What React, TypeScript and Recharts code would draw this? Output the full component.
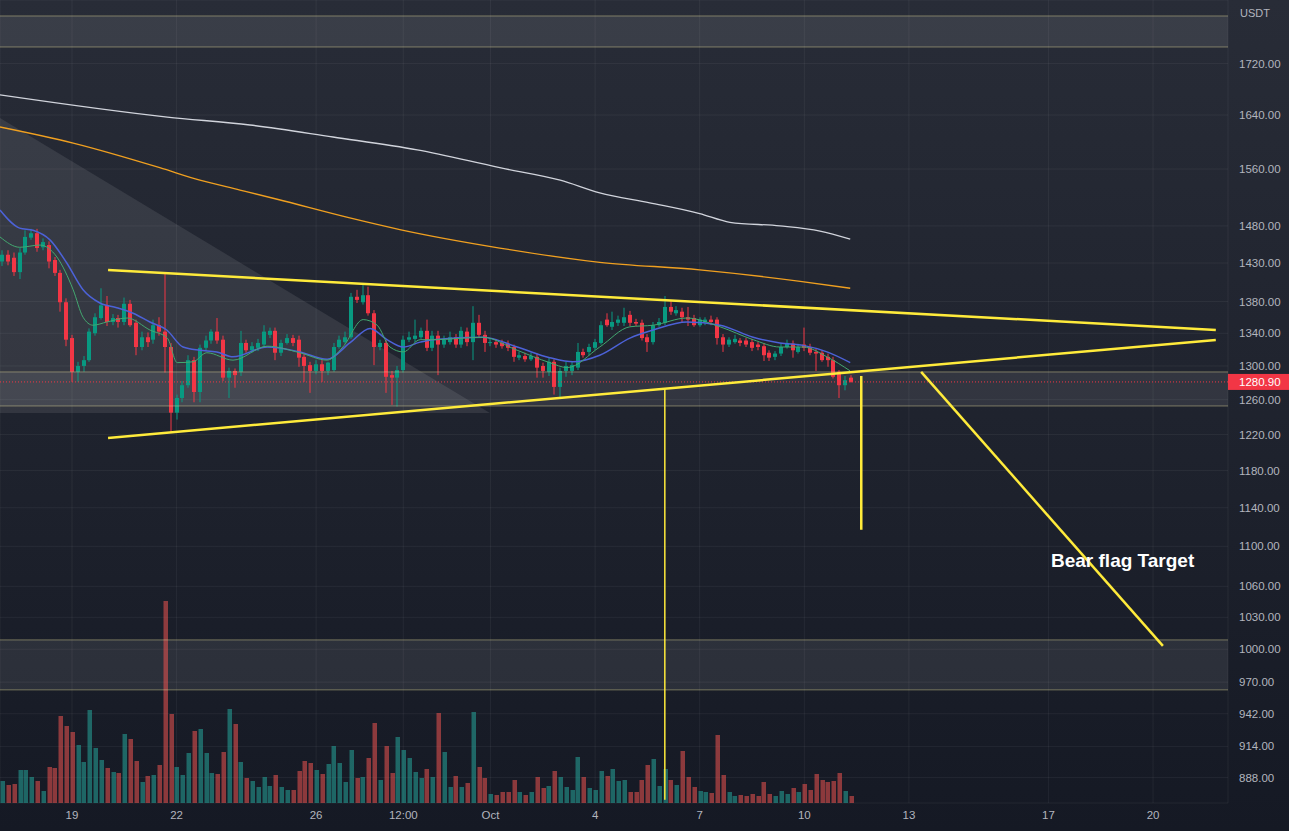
import React from 'react'
import {
  ComposedChart,
  Bar,
  Line,
  Area,
  XAxis,
  YAxis,
  CartesianGrid,
  ReferenceLine,
  ReferenceArea,
} from 'recharts'

// ETH/USDT 4h candles, first candle = Sep 17 04:00 (index -12), index 0 = Sep 19 00:00
const START = -12

const OPEN = [
  1432, 1441, 1437, 1418, 1444, 1464, 1470, 1451, 1454, 1434, 1417, 1379,
  1334, 1293, 1300, 1307, 1340, 1359, 1375, 1354, 1359, 1354,
  1377, 1353, 1323, 1335, 1332, 1350, 1342, 1323, 1245, 1262,
  1277, 1307, 1269, 1322, 1331, 1342, 1332, 1286, 1294, 1293,
  1328, 1319, 1322, 1326, 1338, 1343, 1316, 1328, 1334, 1332,
  1311, 1301, 1294, 1302, 1294, 1295, 1323, 1329, 1335, 1386,
  1379, 1388, 1365, 1323, 1328, 1289, 1286, 1295, 1332, 1333,
  1335, 1343, 1322, 1337, 1326, 1329, 1335, 1326, 1342, 1329,
  1353, 1338, 1328, 1329, 1328, 1327, 1323, 1310, 1312, 1308,
  1311, 1300, 1293, 1305, 1275, 1294, 1294, 1298, 1317, 1317,
  1322, 1328, 1357, 1348, 1353, 1353, 1363, 1354, 1353, 1335,
  1329, 1350, 1353, 1373, 1365, 1367, 1360, 1359, 1350, 1354,
  1357, 1357, 1335, 1326, 1329, 1331, 1331, 1329, 1326, 1324,
  1316, 1311, 1315, 1323, 1327, 1317, 1326, 1323, 1317, 1316,
  1311, 1307, 1293, 1277, 1286,
]

const HIGH = [
  1447, 1447, 1444, 1450, 1474, 1476, 1476, 1463, 1459, 1438, 1421, 1384,
  1338, 1305, 1312, 1346, 1365, 1397, 1387, 1364, 1363, 1385,
  1382, 1357, 1342, 1341, 1357, 1360, 1418, 1328, 1266, 1282,
  1313, 1311, 1326, 1337, 1345, 1359, 1337, 1298, 1297, 1343,
  1332, 1329, 1333, 1350, 1347, 1347, 1332, 1339, 1338, 1337,
  1315, 1305, 1307, 1307, 1305, 1328, 1337, 1342, 1391, 1395,
  1401, 1399, 1369, 1332, 1332, 1294, 1300, 1337, 1342, 1357,
  1347, 1357, 1343, 1343, 1337, 1342, 1339, 1348, 1347, 1374,
  1363, 1343, 1334, 1333, 1332, 1331, 1326, 1317, 1316, 1316,
  1315, 1304, 1310, 1308, 1298, 1305, 1305, 1328, 1321, 1327,
  1333, 1355, 1365, 1367, 1362, 1372, 1368, 1358, 1357, 1339,
  1354, 1359, 1387, 1382, 1374, 1372, 1373, 1363, 1360, 1360,
  1362, 1360, 1339, 1335, 1338, 1334, 1334, 1333, 1329, 1328,
  1319, 1318, 1328, 1332, 1331, 1327, 1347, 1327, 1321, 1319,
  1315, 1311, 1295, 1288, 1289,
]

const LOW = [
  1426, 1427, 1413, 1409, 1441, 1461, 1445, 1447, 1423, 1413, 1367, 1324,
  1281, 1281, 1293, 1305, 1337, 1357, 1349, 1350, 1347, 1350,
  1348, 1313, 1319, 1323, 1327, 1337, 1292, 1222, 1237, 1257,
  1274, 1257, 1257, 1318, 1327, 1327, 1282, 1262, 1274, 1288,
  1316, 1316, 1318, 1323, 1334, 1307, 1312, 1326, 1324, 1299,
  1281, 1268, 1290, 1281, 1289, 1293, 1321, 1327, 1333, 1378,
  1376, 1362, 1301, 1319, 1268, 1254, 1252, 1292, 1329, 1329,
  1333, 1318, 1318, 1289, 1322, 1326, 1322, 1322, 1324, 1307,
  1335, 1317, 1324, 1322, 1321, 1318, 1305, 1307, 1305, 1306,
  1286, 1286, 1288, 1266, 1262, 1287, 1289, 1295, 1310, 1313,
  1319, 1326, 1348, 1344, 1349, 1349, 1349, 1349, 1331, 1317,
  1326, 1348, 1350, 1363, 1362, 1353, 1349, 1348, 1348, 1350,
  1350, 1326, 1317, 1323, 1327, 1324, 1323, 1318, 1319, 1306,
  1306, 1307, 1312, 1321, 1310, 1315, 1318, 1313, 1294, 1305,
  1299, 1285, 1262, 1271, 1280,
]

const CLOSE = [
  1441, 1432, 1418, 1444, 1465, 1470, 1450, 1458, 1432, 1417, 1379, 1332,
  1293, 1300, 1307, 1342, 1360, 1375, 1354, 1359, 1354, 1377,
  1350, 1323, 1335, 1329, 1350, 1342, 1323, 1245, 1262, 1277,
  1307, 1269, 1322, 1331, 1342, 1331, 1286, 1294, 1289, 1328,
  1319, 1324, 1328, 1342, 1343, 1316, 1328, 1334, 1328, 1310,
  1300, 1294, 1302, 1294, 1304, 1323, 1332, 1335, 1386, 1382,
  1388, 1365, 1323, 1328, 1287, 1286, 1295, 1332, 1335, 1337,
  1343, 1322, 1337, 1326, 1332, 1335, 1326, 1343, 1329, 1353,
  1338, 1328, 1329, 1326, 1324, 1322, 1311, 1313, 1308, 1312,
  1298, 1294, 1305, 1275, 1294, 1300, 1301, 1317, 1313, 1323,
  1329, 1350, 1350, 1354, 1357, 1360, 1353, 1352, 1334, 1329,
  1350, 1354, 1373, 1367, 1369, 1360, 1357, 1350, 1357, 1357,
  1354, 1334, 1326, 1332, 1333, 1328, 1326, 1322, 1323, 1313,
  1310, 1315, 1323, 1328, 1319, 1323, 1322, 1316, 1315, 1307,
  1307, 1287, 1277, 1283, 1280.9,
]

// volume, thousands of ETH
const VOLUME = [
  22, 18, 19, 33, 33, 26, 22, 12, 36, 35, 87, 77,
  71, 58, 41, 93, 55, 43, 35, 31, 30, 69,
  64, 42, 21, 27, 28, 38, 202, 89, 36, 28,
  50, 72, 74, 50, 30, 29, 51, 94, 79, 41,
  25, 22, 16, 26, 17, 28, 16, 13, 13, 32,
  42, 40, 33, 29, 39, 57, 40, 21, 53, 25,
  26, 45, 80, 23, 57, 30, 66, 53, 45, 31,
  25, 34, 26, 90, 51, 16, 27, 16, 20, 91,
  36, 25, 9, 8, 11, 11, 23, 11, 8, 11,
  26, 15, 17, 32, 26, 16, 13, 46, 26, 15,
  13, 32, 27, 34, 22, 23, 11, 11, 23, 38,
  44, 17, 34, 23, 18, 52, 26, 16, 12, 11,
  10, 68, 28, 11, 7, 8, 7, 9, 7, 21,
  9, 7, 12, 9, 15, 11, 19, 13, 29, 23,
  21, 22, 30, 12, 7,
]

// moving averages, [candle index, price]
const MA_200 = [
  [-12.4, 1671], [16.4, 1637], [30.6, 1625], [44.9, 1607], [59.4, 1588], [73.6, 1562],
  [84, 1544], [90.8, 1526], [99.4, 1512], [108, 1497], [113.2, 1485], [121.8, 1480],
  [128.7, 1473], [133.9, 1462],
]
const MA_100 = [
  [-12.4, 1622], [0.2, 1598], [15.1, 1562], [22, 1544], [28.9, 1530], [35.3, 1517],
  [47.8, 1491], [56.4, 1475], [73.6, 1450], [90.8, 1431], [108, 1421], [125.3, 1406],
  [133.9, 1397],
]
const EMA_SLOW = [
  [-12.4, 1502], [-9, 1477], [-6.7, 1474], [-3.8, 1461], [-0.9, 1430], [1.9, 1395],
  [4.8, 1378], [7.7, 1372], [10.5, 1365], [13.4, 1354], [16.3, 1344], [19.1, 1323],
  [22, 1319], [24.9, 1317], [27.7, 1311], [33.6, 1323], [39.2, 1317], [43.9, 1308],
  [47.8, 1328], [51.3, 1346], [54.2, 1332], [57, 1323], [59.9, 1329], [62.1, 1332],
  [70.7, 1335], [76.6, 1323], [82.2, 1310], [86.2, 1305], [90.8, 1313], [96, 1334],
  [100, 1344], [105.8, 1354], [111.5, 1350], [117.2, 1335], [121.8, 1328], [125.8, 1325],
  [129.9, 1317], [133.9, 1304],
]
const EMA_FAST = [
  [-12.4, 1465], [-9, 1451], [-5.5, 1454], [-2.6, 1438], [0.2, 1395], [1.9, 1360],
  [3.6, 1350], [6, 1354], [9.5, 1359], [13.4, 1344], [16.4, 1334], [18.1, 1304],
  [20.8, 1305], [23.2, 1316], [27.7, 1307], [33.6, 1324], [39.2, 1316], [43.9, 1307],
  [46.6, 1323], [50.1, 1357], [52.5, 1350], [54.7, 1323], [57, 1317], [59.9, 1332],
  [62.1, 1332], [70.7, 1335], [76.6, 1319], [82.2, 1304], [85.2, 1298], [90.8, 1323],
  [96, 1348], [100, 1350], [105.8, 1359], [111.5, 1348], [117.2, 1332], [121.8, 1323],
  [125.8, 1323], [129.9, 1311], [133.9, 1294],
]

const PRICE_TICKS = [888, 914, 942, 970, 1000, 1030, 1060, 1100, 1140, 1180, 1220, 1260, 1300, 1340, 1380, 1430, 1480, 1560, 1640, 1720]
const TIME_TICKS = [0, 18, 42, 57, 72, 90, 108, 126, 144, 168, 186]
const TIME_LABELS = ['19', '22', '26', '12:00', 'Oct', '4', '7', '10', '13', '17', '20']

const ZONES = [
  [1746.7, 1797.6],
  [1252.7, 1292.8],
  [963.1, 1008.7],
]

// drawings: [[i1, p1], [i2, p2]]
const FLAG_TOP = [[6.2, 1420.8], [196.8, 1344.1]]
const FLAG_BOTTOM = [[6.2, 1216.2], [196.8, 1331.7]]
const POLE = [[-12.4, 1410.4], [12.0, 1217.3]]
const DROP_1 = [[102.0, 1273], [102.0, 870]]
const DROP_2 = [[135.8, 1288], [135.8, 1117]]
const TARGET = [[146.1, 1292.8], [187.7, 1003.1]]
const CHANNEL = [[-12.4, 1635.6], [71.9, 1244.6]]
const CHANNEL_BASE = 1244.6

const LAST_PRICE = 1280.9

const UP = '#089981'
const DOWN = '#f23645'
const VOL_UP = 'rgba(38,166,154,0.55)'
const VOL_DOWN = 'rgba(239,83,80,0.55)'
const YELLOW = '#ffeb3b'
const X_DOMAIN = [-12.39, 198.9]
const Y_DOMAIN = [867.3, 1824.4]
const FONT = '"Liberation Sans", Arial, sans-serif'

const candles = OPEN.map((o, k) => ({
  i: START + k,
  o,
  h: HIGH[k],
  l: LOW[k],
  c: CLOSE[k],
  v: VOLUME[k],
}))

const pts = (arr: number[][]) => arr.map(([i, v]) => ({ i, v }))

const channelData = [
  { i: CHANNEL[0][0], r: [CHANNEL_BASE, CHANNEL[0][1]] },
  { i: CHANNEL[1][0], r: [CHANNEL_BASE, CHANNEL[1][1]] },
]

const Candle = (props: any) => {
  const { x, y, width, height, payload } = props
  if (x == null || y == null) return null
  const { o, h, l, c } = payload
  const color = c >= o ? UP : DOWN
  const top = Math.min(y, y + height)
  const span = Math.abs(height)
  const lh = Math.log(h)
  const range = lh - Math.log(l) || 1
  const at = (v: number) => top + (span * (lh - Math.log(v))) / range
  const bTop = at(Math.max(o, c))
  const bBot = at(Math.min(o, c))
  const cx = x + width / 2
  const left = Math.round(cx - 2)
  return (
    <g>
      <rect x={left + 1.5} y={top} width={1} height={span} fill={color} />
      <rect x={left} y={bTop} width={4} height={Math.max(1, bBot - bTop)} fill={color} />
    </g>
  )
}

const VolBar = (props: any) => {
  const { x, y, width, height, payload } = props
  if (x == null || y == null) return null
  const cx = x + width / 2
  const left = Math.round(cx - 2.5)
  return (
    <rect
      x={left + 0.5}
      y={y}
      width={4.5}
      height={Math.max(0, height)}
      fill={payload.c >= payload.o ? VOL_UP : VOL_DOWN}
    />
  )
}

const PriceTag = (props: any) => {
  const vb = props.viewBox
  if (!vb) return null
  const x = vb.x + vb.width
  return (
    <g>
      <rect x={x} y={vb.y - 8} width={61} height={16} fill={DOWN} />
      <text x={x + 11} y={vb.y + 4} fill="#ffffff" fontSize={11.5} fontFamily={FONT}>
        {LAST_PRICE.toFixed(2)}
      </text>
    </g>
  )
}

const seg = (s: number[][]) => [
  { x: s[0][0], y: s[0][1] },
  { x: s[1][0], y: s[1][1] },
]

export default function App() {
  const tick = { fill: '#b2b5be', fontSize: 11.5, fontFamily: FONT }
  return (
    <div
      style={{
        position: 'absolute',
        left: 0,
        top: 0,
        width: 1289,
        height: 831,
        overflow: 'hidden',
        background: 'linear-gradient(to bottom, #282c37 0%, #1f232e 50%, #151924 100%)',
      }}
    >
      <ComposedChart width={1289} height={831} data={candles} margin={{ top: 0, right: 0, bottom: 0, left: 0 }}>
        <CartesianGrid stroke="rgba(255,255,255,0.055)" />
        <XAxis
          type="number"
          dataKey="i"
          domain={X_DOMAIN}
          allowDataOverflow
          ticks={TIME_TICKS}
          tickFormatter={(v) => TIME_LABELS[TIME_TICKS.indexOf(v)] ?? ''}
          tick={tick}
          tickLine={false}
          axisLine={false}
          height={28}
          interval={0}
        />
        <XAxis xAxisId="vx" type="number" dataKey="i" domain={X_DOMAIN} allowDataOverflow hide />
        <YAxis
          orientation="right"
          scale="log"
          domain={Y_DOMAIN}
          allowDataOverflow
          ticks={PRICE_TICKS}
          tickFormatter={(v) => Number(v).toFixed(2)}
          tick={tick}
          tickLine={false}
          axisLine={false}
          tickMargin={5}
          width={61}
          interval={0}
        />
        <YAxis yAxisId="vol" domain={[0, 803]} hide />

        {ZONES.map(([a, b], k) => (
          <ReferenceArea key={`z${k}`} y1={a} y2={b} fill="#ffffff" fillOpacity={0.085} stroke="none" ifOverflow="visible" />
        ))}
        {ZONES.flat().map((p, k) => (
          <ReferenceLine key={`zl${k}`} y={p} stroke="rgba(225,215,150,0.45)" strokeWidth={1} />
        ))}

        <Area
          data={channelData}
          dataKey="r"
          type="linear"
          fill="#ffffff"
          fillOpacity={0.09}
          stroke="none"
          isAnimationActive={false}
        />
        <ReferenceLine segment={seg(CHANNEL)} stroke="rgba(200,195,140,0.5)" strokeWidth={1} />

        <Bar xAxisId="vx" yAxisId="vol" dataKey="v" barSize={4.5} shape={VolBar} isAnimationActive={false} />

        <Bar dataKey={(d: any) => [d.l, d.h]} barSize={4} shape={Candle} isAnimationActive={false} />

        <Line data={pts(MA_200)} dataKey="v" type="monotone" stroke="#d1d4dc" strokeWidth={1.3} dot={false} isAnimationActive={false} />
        <Line data={pts(MA_100)} dataKey="v" type="monotone" stroke="#f0a020" strokeWidth={1.3} dot={false} isAnimationActive={false} />
        <Line data={pts(EMA_SLOW)} dataKey="v" type="monotone" stroke="#4c62d8" strokeWidth={1.5} dot={false} isAnimationActive={false} />
        <Line data={pts(EMA_FAST)} dataKey="v" type="monotone" stroke="#43a870" strokeWidth={1} dot={false} isAnimationActive={false} />

        <ReferenceLine y={LAST_PRICE} stroke={DOWN} strokeDasharray="1 2" strokeWidth={1} label={<PriceTag />} />

        <ReferenceLine segment={seg(FLAG_TOP)} stroke={YELLOW} strokeWidth={2.5} />
        <ReferenceLine segment={seg(FLAG_BOTTOM)} stroke={YELLOW} strokeWidth={2.5} />
        <ReferenceLine segment={seg(POLE)} stroke={YELLOW} strokeWidth={2.5} />
        <ReferenceLine segment={seg(DROP_1)} stroke={YELLOW} strokeWidth={1.5} />
        <ReferenceLine segment={seg(DROP_2)} stroke={YELLOW} strokeWidth={2.5} />
        <ReferenceLine segment={seg(TARGET)} stroke={YELLOW} strokeWidth={2.5} />
      </ComposedChart>

      <div style={{ position: 'absolute', left: 1240, top: 7, color: '#b2b5be', fontSize: 11, fontFamily: FONT }}>USDT</div>
      <div
        style={{
          position: 'absolute',
          left: 1051,
          top: 551,
          color: '#ffffff',
          fontSize: 19,
          lineHeight: '19px',
          fontWeight: 700,
          fontFamily: FONT,
          whiteSpace: 'nowrap',
        }}
      >
        Bear flag Target
      </div>
    </div>
  )
}
